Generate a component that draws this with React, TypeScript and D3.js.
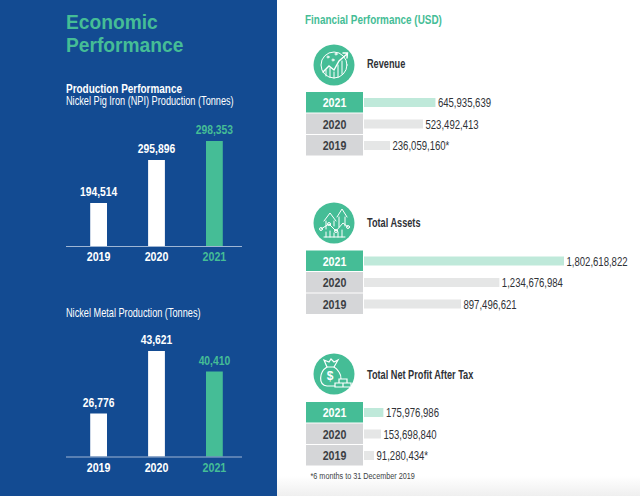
import React from "react";
import * as d3 from "d3";

const years = ["2019", "2020", "2021"];
const npiValues = [194514, 295896, 298353];
const metalValues = [26776, 43621, 40410];
const finYears = ["2021", "2020", "2019"];
const revenue = [645935639, 523492413, 236059160];
const revenueLabels = ["645,935,639", "523,492,413", "236,059,160*"];
const assets = [1802618822, 1234676984, 897496621];
const assetLabels = ["1,802,618,822", "1,234,676,984", "897,496,621"];
const profit = [175976986, 153698840, 91280434];
const profitLabels = ["175,976,986", "153,698,840", "91,280,434*"];

const BLUE = "#134b92";
const GREEN = "#45bd96";
const SANS = "'Liberation Sans', sans-serif";
const fmt = d3.format(",");

// The source's bars are pictorial: their heights are not proportional to the values.
const npiH = d3.scaleLinear().domain([0, 194514, 295896, 298353]).range([0, 43, 86, 105]);
const metalH = d3.scaleLinear().domain([0, 26776, 40410, 43621]).range([0, 43, 85, 105.5]);
const lenScale = d3.scaleLinear().domain([0, 236059160, 523492413, 897496621, 1802618822]).range([0, 26, 59, 97, 200]);
const xBand = d3.scaleBand().domain(years).range([63, 250]).paddingInner(0.71).paddingOuter(0.47);

// Condensed text: the source's narrow grotesque is not installed, so squeeze Liberation Sans.
function T({ x, y, size, bold, fill, anchor, sx = 0.765, children }: any) {
  return (
    <text
      transform={`translate(${x},${y}) scale(${sx},1)`}
      textAnchor={anchor || "start"}
      fontFamily={SANS}
      fontWeight={bold ? 700 : 400}
      fontSize={size}
      fill={fill}
    >
      {children}
    </text>
  );
}

function Columns({ values, h, base }: { values: number[]; h: any; base: number }) {
  return (
    <g>
      {years.map((y, i) => {
        const x = xBand(y)!;
        const w = xBand.bandwidth();
        const top = base - h(values[i]);
        const col = y === "2021" ? GREEN : "#fff";
        return (
          <g key={y}>
            <rect x={x} y={top} width={w} height={base - top} fill={col} />
            <T x={x + w / 2} y={top - 7} anchor="middle" bold size={13.5} fill={col}>{fmt(values[i])}</T>
            <T x={x + w / 2} y={base + 15} anchor="middle" bold size={13.5} sx={0.79} fill={col}>{y}</T>
          </g>
        );
      })}
      <line x1={66} x2={242} y1={base + 0.5} y2={base + 0.5} stroke="#9fb6d4" strokeWidth={1.2} />
    </g>
  );
}

function Rows({ values, labels, top }: { values: number[]; labels: string[]; top: number }) {
  return (
    <g>
      {finYears.map((y, i) => {
        const ry = top + i * 21.5;
        const cur = y === "2021";
        const len = lenScale(values[i]);
        return (
          <g key={y}>
            <rect x={306} y={ry} width={57} height={20.5} fill={cur ? GREEN : "#d5d6d8"} />
            <T x={334.5} y={ry + 15} anchor="middle" bold size={13.5} sx={0.79} fill={cur ? "#fff" : "#3c3f44"}>{y}</T>
            <rect x={364} y={ry + 6} width={len} height={9} fill={cur ? "#bfe9da" : "#e5e6e6"} />
            <T x={364 + len + 2.5} y={ry + 15} size={12.5} fill="#2f3237">{labels[i]}</T>
          </g>
        );
      })}
    </g>
  );
}

function IconCircle({ cy, kind }: { cy: number; kind: string }) {
  const s = { fill: "none", stroke: "#fff", strokeWidth: 1, strokeLinecap: "round" as const };
  return (
    <g transform={`translate(334,${cy})`}>
      <circle r={20.5} fill={GREEN} />
      {kind === "rev" && (
        <g {...s}>
          <circle r={13} />
          <path d="M-11,7 L-5,1 L0,5 L5,-4 L13,-11 M9,-12 L13.5,-12 L13,-7" strokeWidth={1.4} />
          <path d="M-8,11 V5 M-4,12 V3 M0,13 V7 M4,12 V0 M8,9 V-4" />
          <circle cx={-6} cy={-8} r={1} /><circle cx={2} cy={-11} r={1} /><circle cx={-1} cy={-5} r={1} />
        </g>
      )}
      {kind === "assets" && (
        <g {...s}>
          <path d="M-10,-2 L-4,-10 L2,-2 M-8,-2 V6 M0,-2 V3 M3,-6 L8,-14 L13,-6 M5,-6 V4 M11,-6 V3" />
          <path d="M-13,6 L-5,1 L2,8 L9,0 L14,4" />
          <path d="M-10,14 H11 M-8,14 V9 M-4,14 V8 M0,14 V10 M4,14 V9 M8,14 V7" />
          <circle cx={-13} cy={6} r={1.5} /><circle cx={-5} cy={1} r={1.5} /><circle cx={2} cy={8} r={1.5} /><circle cx={14} cy={4} r={1.5} />
        </g>
      )}
      {kind === "profit" && (
        <g {...s} strokeWidth={1.2}>
          <path d="M-7,-7 C-15,-2 -16,11 -7,12 H3 C8,10 8,2 5,-2 C3,-5 2,-6 0,-7 Z" />
          <path d="M-7,-7 L-10,-14 L-5,-12 L-3,-15 L0,-12 L4,-14 L0,-7" />
          <path d="M1,9 H9 V13 H1 Z M9,9 H17 V13 H9 Z M5,5 H13 V9 H5 Z" fill={GREEN} />
          <text x={-4} y={6} textAnchor="middle" fontFamily={SANS} fontWeight={700} fontSize={12} fill="#fff" stroke="none">$</text>
        </g>
      )}
    </g>
  );
}

export default function App() {
  return (
    <svg width={640} height={496} style={{ position: "absolute", left: 0, top: 0 }} xmlns="http://www.w3.org/2000/svg">
      <defs>
        <linearGradient id="fade" x1="0" y1="0" x2="0" y2="1">
          <stop offset="0" stopColor="#ffffff" />
          <stop offset="1" stopColor="#efefef" />
        </linearGradient>
      </defs>
      <rect width={640} height={496} fill="#fff" />
      <rect x={277} y={476} width={363} height={20} fill="url(#fade)" />
      <rect width={277} height={496} fill={BLUE} />

      <T x={66} y={29} bold size={20} sx={0.96} fill={GREEN}>Economic</T>
      <T x={66} y={52} bold size={20} sx={0.96} fill={GREEN}>Performance</T>
      <T x={66} y={93} bold size={13} fill="#fff">Production Performance</T>
      <T x={66} y={105} size={12} fill="#fff">Nickel Pig Iron (NPI) Production (Tonnes)</T>
      <Columns values={npiValues} h={npiH} base={246} />
      <T x={66} y={317} size={12} fill="#fff">Nickel Metal Production (Tonnes)</T>
      <Columns values={metalValues} h={metalH} base={456.5} />

      <T x={305} y={24} bold size={13} fill={GREEN}>Financial Performance (USD)</T>

      <IconCircle cy={65} kind="rev" />
      <T x={367} y={68} bold size={12} fill="#2f3237">Revenue</T>
      <Rows values={revenue} labels={revenueLabels} top={92} />

      <IconCircle cy={223} kind="assets" />
      <T x={367} y={227} bold size={12} fill="#2f3237">Total Assets</T>
      <Rows values={assets} labels={assetLabels} top={250.5} />

      <IconCircle cy={374} kind="profit" />
      <T x={367} y={379} bold size={12} fill="#2f3237">Total Net Profit After Tax</T>
      <Rows values={profit} labels={profitLabels} top={402} />

      <T x={310.5} y={479} size={9.5} fill="#3c3f44">*6 months to 31 December 2019</T>
    </svg>
  );
}
